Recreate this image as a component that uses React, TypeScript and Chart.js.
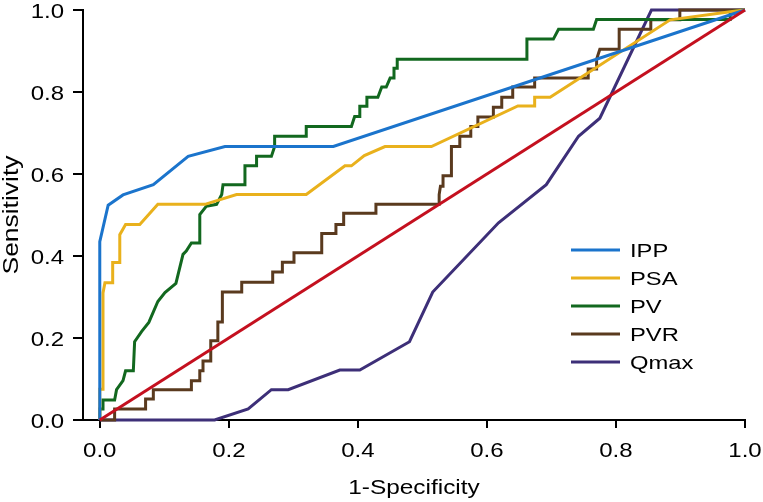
import { useEffect, useRef } from "react";
import { Chart, registerables } from "chart.js";

Chart.register(...registerables);

const seriesNames = ["IPP", "PSA", "PV", "PVR", "Qmax"];
const seriesColors = ["#1B74CC", "#E9B11C", "#12681F", "#5A3A1E", "#3D2F78"];
const diagonalColor = "#C4101F";

const xTicks = [0, 0.2, 0.4, 0.6, 0.8, 1.0];
const yTicks = [0, 0.2, 0.4, 0.6, 0.8, 1.0];
const xTitle = "1-Specificity";
const yTitle = "Sensitivity";

const ipp: number[][] = [
  [0, 0], [0, 0.435], [0.013, 0.524], [0.036, 0.549], [0.083, 0.574], [0.137, 0.643],
  [0.194, 0.667], [0.362, 0.667], [1, 1],
];

const psa: number[][] = [
  [0, 0], [0, 0.075], [0.005, 0.075], [0.005, 0.31], [0.008, 0.335], [0.02, 0.335],
  [0.02, 0.384], [0.031, 0.384], [0.031, 0.452], [0.04, 0.477], [0.062, 0.477],
  [0.09, 0.526], [0.163, 0.526], [0.212, 0.55], [0.32, 0.55], [0.38, 0.62], [0.39, 0.62],
  [0.41, 0.645], [0.442, 0.667], [0.514, 0.667], [0.648, 0.766], [0.674, 0.766],
  [0.674, 0.787], [0.698, 0.787], [0.884, 0.976], [0.977, 0.996], [1, 1],
];

const pv: number[][] = [
  [0, 0], [0, 0.027], [0.005, 0.027], [0.005, 0.049], [0.023, 0.049], [0.026, 0.074],
  [0.036, 0.096], [0.04, 0.12], [0.052, 0.12], [0.054, 0.191], [0.065, 0.216],
  [0.076, 0.238], [0.09, 0.289], [0.101, 0.311], [0.118, 0.333], [0.129, 0.404],
  [0.134, 0.412], [0.142, 0.432], [0.155, 0.432], [0.155, 0.501], [0.165, 0.521],
  [0.181, 0.526], [0.189, 0.55], [0.191, 0.574], [0.225, 0.574], [0.225, 0.62],
  [0.243, 0.62], [0.243, 0.643], [0.266, 0.643], [0.271, 0.667], [0.271, 0.692],
  [0.32, 0.692], [0.32, 0.716], [0.39, 0.716], [0.395, 0.74], [0.403, 0.74],
  [0.403, 0.765], [0.414, 0.765], [0.414, 0.787], [0.431, 0.787], [0.437, 0.812],
  [0.444, 0.812], [0.45, 0.834], [0.456, 0.834], [0.456, 0.858], [0.461, 0.858],
  [0.461, 0.88], [0.662, 0.88], [0.662, 0.929], [0.703, 0.929], [0.711, 0.953],
  [0.765, 0.953], [0.77, 0.977], [0.977, 0.977], [0.977, 0.996], [1, 1],
];

const pvr: number[][] = [
  [0, 0], [0.023, 0], [0.023, 0.027], [0.071, 0.027], [0.071, 0.051], [0.083, 0.051],
  [0.083, 0.074], [0.142, 0.074], [0.142, 0.096], [0.155, 0.096], [0.155, 0.12],
  [0.16, 0.12], [0.16, 0.144], [0.172, 0.144], [0.172, 0.193], [0.183, 0.193],
  [0.183, 0.239], [0.19, 0.239], [0.19, 0.312], [0.22, 0.312], [0.22, 0.336],
  [0.268, 0.336], [0.268, 0.361], [0.283, 0.361], [0.283, 0.385], [0.301, 0.385],
  [0.301, 0.408], [0.344, 0.408], [0.344, 0.455], [0.366, 0.455], [0.366, 0.477],
  [0.378, 0.477], [0.378, 0.504], [0.428, 0.504], [0.428, 0.526], [0.526, 0.526],
  [0.526, 0.55], [0.528, 0.57], [0.532, 0.57], [0.532, 0.596], [0.545, 0.596],
  [0.545, 0.667], [0.558, 0.667], [0.558, 0.692], [0.575, 0.692], [0.575, 0.716],
  [0.586, 0.716], [0.586, 0.739], [0.61, 0.739], [0.61, 0.763], [0.623, 0.763],
  [0.623, 0.787], [0.64, 0.787], [0.64, 0.812], [0.674, 0.812], [0.674, 0.834],
  [0.757, 0.834], [0.757, 0.856], [0.77, 0.856], [0.77, 0.88], [0.775, 0.904],
  [0.805, 0.904], [0.805, 0.953], [0.854, 0.953], [0.854, 0.976], [0.899, 0.976],
  [0.899, 1.0], [1, 1],
];

const qmax: number[][] = [
  [0, 0], [0.178, 0], [0.23, 0.027], [0.266, 0.074], [0.292, 0.074], [0.372, 0.122],
  [0.403, 0.122], [0.48, 0.191], [0.516, 0.312], [0.618, 0.481], [0.692, 0.574],
  [0.742, 0.692], [0.775, 0.736], [0.855, 1.0], [1, 1],
];

const diagonal: number[][] = [[0, 0], [1, 1]];

const allSeries = [ipp, psa, pv, pvr, qmax];

const FONT = "'Liberation Sans', Arial, Helvetica, sans-serif";

function drawText(
  ctx: CanvasRenderingContext2D,
  text: string,
  x: number,
  y: number,
  size: number,
  align: CanvasTextAlign,
  sx: number,
  rotate = false
) {
  ctx.save();
  ctx.translate(x, y);
  if (rotate) ctx.rotate(-Math.PI / 2);
  ctx.scale(sx, 1);
  ctx.font = `${size}px ${FONT}`;
  ctx.textAlign = align;
  ctx.textBaseline = "alphabetic";
  ctx.fillStyle = "#000";
  ctx.fillText(text, 0, 0);
  ctx.restore();
}

const textPlugin = {
  id: "stretchedText",
  afterDraw(chart: any) {
    const { ctx, chartArea, scales } = chart;
    const xs = scales.x;
    const ys = scales.y;
    // extend x-axis line to the left, under the y ticks
    ctx.save();
    ctx.strokeStyle = "#000";
    ctx.lineWidth = 2;
    ctx.beginPath();
    ctx.moveTo(chartArea.left - 10, chartArea.bottom);
    ctx.lineTo(chartArea.left, chartArea.bottom);
    ctx.stroke();
    ctx.restore();

    xTicks.forEach((v) => {
      drawText(ctx, v.toFixed(1), xs.getPixelForValue(v), chartArea.bottom + 37, 20, "center", 1.2);
    });
    yTicks.forEach((v) => {
      drawText(ctx, v.toFixed(1), chartArea.left - 19, ys.getPixelForValue(v) + 8, 20, "right", 1.2);
    });
    drawText(ctx, xTitle, (chartArea.left + chartArea.right) / 2, chartArea.bottom + 74, 20, "center", 1.22);
    drawText(ctx, yTitle, 18, (chartArea.top + chartArea.bottom) / 2, 22, "center", 1.2, true);

    // legend inside the plot
    const x0 = chartArea.right - 174;
    const y0 = chartArea.top + 240;
    seriesNames.forEach((name, i) => {
      const y = y0 + i * 28;
      ctx.save();
      ctx.strokeStyle = seriesColors[i];
      ctx.lineWidth = 3;
      ctx.beginPath();
      ctx.moveTo(x0, y);
      ctx.lineTo(x0 + 49, y);
      ctx.stroke();
      ctx.restore();
      drawText(ctx, name, x0 + 59, y + 7, 19, "left", 1.25);
    });
  },
};

export default function App() {
  const ref = useRef<HTMLCanvasElement | null>(null);

  useEffect(() => {
    if (!ref.current) return;
    const datasets: any[] = allSeries.map((pts, i) => ({
      label: seriesNames[i],
      data: pts.map(([x, y]) => ({ x, y })),
      showLine: true,
      borderColor: seriesColors[i],
      backgroundColor: seriesColors[i],
      borderWidth: 3,
      pointRadius: 0,
      tension: 0,
      fill: false,
      clip: false,
    }));
    datasets.unshift({
      label: "Reference",
      data: diagonal.map(([x, y]) => ({ x, y })),
      showLine: true,
      borderColor: diagonalColor,
      backgroundColor: diagonalColor,
      borderWidth: 3,
      pointRadius: 0,
      tension: 0,
      fill: false,
      clip: false,
    });

    const zeroPad = (s: any) => {
      s.paddingLeft = 0;
      s.paddingRight = 0;
      s.paddingTop = 0;
      s.paddingBottom = 0;
    };

    const chart = new Chart(ref.current, {
      type: "scatter",
      data: { datasets },
      options: {
        animation: false,
        responsive: false,
        maintainAspectRatio: false,
        layout: { padding: { top: 10, right: 18, left: 0, bottom: 0 } },
        plugins: { legend: { display: false }, tooltip: { enabled: false } },
        scales: {
          x: {
            type: "linear",
            min: -0.026,
            max: 1,
            afterBuildTicks: (s: any) => {
              s.ticks = xTicks.map((v) => ({ value: v }));
            },
            afterFit: (s: any) => {
              s.height = 82;
              zeroPad(s);
            },
            ticks: { display: false, autoSkip: false, maxRotation: 0 },
            grid: { drawOnChartArea: false, drawTicks: true, tickLength: 8, color: "#000", lineWidth: 2 },
            border: { display: true, color: "#000", width: 2 },
            title: { display: false },
          },
          y: {
            type: "linear",
            min: 0,
            max: 1,
            afterBuildTicks: (s: any) => {
              s.ticks = yTicks.map((v) => ({ value: v }));
            },
            afterFit: (s: any) => {
              s.width = 83;
              zeroPad(s);
            },
            ticks: { display: false, autoSkip: false },
            grid: { drawOnChartArea: false, drawTicks: true, tickLength: 10, color: "#000", lineWidth: 2 },
            border: { display: true, color: "#000", width: 2 },
            title: { display: false },
          },
        },
      },
      plugins: [textPlugin],
    });
    return () => chart.destroy();
  }, []);

  return (
    <div style={{ position: "fixed", left: 0, top: 0, width: 763, height: 502, background: "#fff" }}>
      <canvas ref={ref} width={763} height={502} style={{ display: "block" }} />
    </div>
  );
}
